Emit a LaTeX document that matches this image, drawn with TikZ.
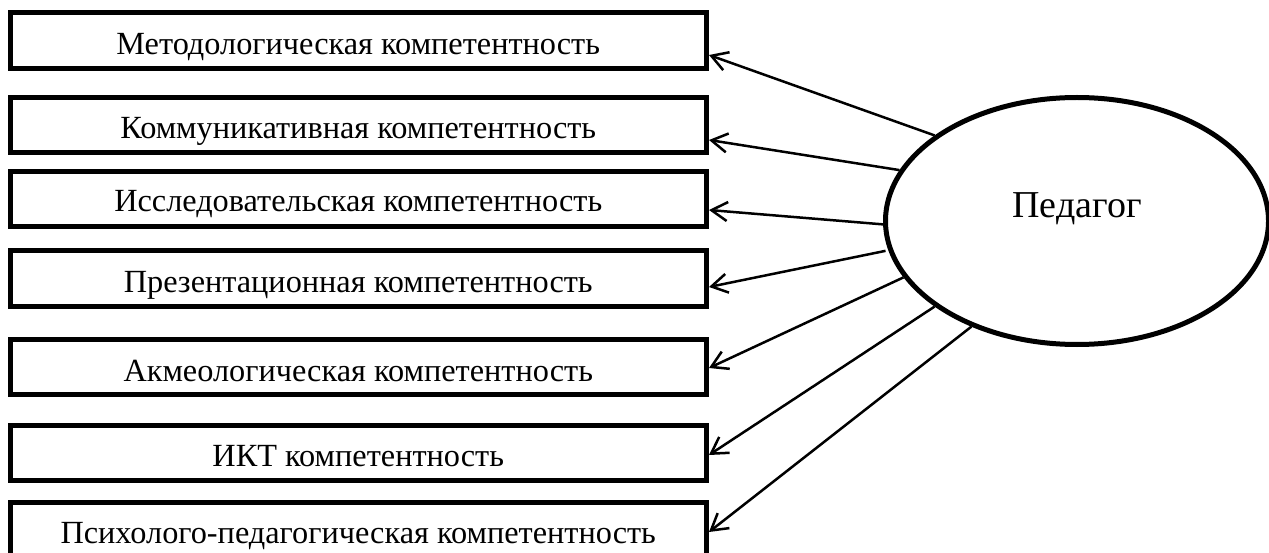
\documentclass[tikz,border=0pt]{standalone}
\usepackage{fontspec}
\setmainfont{Liberation Serif}
\usetikzlibrary{shapes.geometric,arrows.meta}
\begin{document}
\begin{tikzpicture}[x=1pt,y=-1pt,
  comp/.style={draw,line width=5pt,minimum width=696.5pt,inner sep=0pt,
    font=\fontsize{32.3}{37}\selectfont,text depth=0pt},
  ped/.style={draw,ellipse,line width=5pt,minimum width=383pt,minimum height=247pt,
    inner sep=0pt,font=\fontsize{38}{44}\selectfont,text height=0pt,text depth=6.6pt},
  link/.style={line width=2.5pt,-{Straight Barb[length=16pt,width=19pt]}}]
\useasboundingbox (0,0) rectangle (1269,553);
\node[comp,minimum height=55.5pt,text height=28.5pt] (b1) at (358.25,40.75) {Методологическая компетентность};
\node[comp,minimum height=55pt,text height=28pt] (b2) at (358.25,125) {Коммуникативная компетентность};
\node[comp,minimum height=55pt,text height=25.4pt] (b3) at (358.25,199) {Исследовательская компетентность};
\node[comp,minimum height=56pt,text height=29pt] (b4) at (358.25,278.5) {Презентационная компетентность};
\node[comp,minimum height=55pt,text height=29.4pt] (b5) at (358.25,367) {Акмеологическая компетентность};
\node[comp,minimum height=55pt,text height=27.4pt] (b6) at (358.25,453) {ИКТ компетентность};
\node[comp,minimum height=77.5pt,text height=3.5pt] (b7) at (358.25,541.25) {Психолого-педагогическая компетентность};
\node[ped] (p) at (1077,221) {Педагог};
\draw[link] (p.149.9) -- ([yshift=-14.25pt]b1.east);
\draw[link] (p.164.2) -- ([yshift=-15pt]b2.east);
\draw[link] (p.181.8) -- ([yshift=-11pt]b3.east);
\draw[link] ([xshift=-3pt]p.189.2) -- ([yshift=-8.5pt]b4.east);
\draw[link] (p.198.1) -- ([yshift=-1pt]b5.east);
\draw[link] (p.211) -- ([yshift=-2pt]b6.east);
\draw[link] (p.225.3) -- ([yshift=9.25pt]b7.east);
\end{tikzpicture}
\end{document}
